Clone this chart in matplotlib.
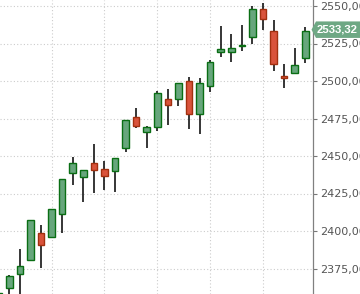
import numpy as np
import matplotlib
matplotlib.use("Agg")
import matplotlib.pyplot as plt
from matplotlib.patches import Polygon
from matplotlib.transforms import blended_transform_factory

# Kerzen-Daten (Index, Open, High, Low, Close)
idx = np.arange(-1, 29)
opens = [2350.0, 2361.8, 2371.1, 2380.7, 2398.7, 2396.2, 2411.1, 2438.5, 2435.8, 2445.1,
         2441.1, 2439.7, 2455.1, 2476.3, 2465.8, 2469.1, 2487.9, 2487.8, 2499.9, 2478.3,
         2497.0, 2519.1, 2519.5, 2523.1, 2529.1, 2547.8, 2533.1, 2503.3, 2505.1, 2515.1]
highs = [2362.0, 2370.7, 2388.0, 2407.5, 2404.0, 2414.5, 2434.5, 2449.1, 2440.5, 2458.0,
         2446.7, 2448.7, 2474.0, 2482.0, 2469.8, 2493.3, 2494.7, 2498.5, 2502.7, 2502.0,
         2514.0, 2536.7, 2531.3, 2537.3, 2550.2, 2552.0, 2540.7, 2511.1, 2521.8, 2535.8]
lows = [2345.0, 2355.0, 2357.0, 2380.0, 2375.5, 2395.5, 2398.9, 2430.9, 2419.5, 2425.1,
        2427.3, 2426.2, 2452.5, 2468.9, 2455.1, 2466.9, 2470.9, 2483.3, 2468.0, 2465.0,
        2492.9, 2516.2, 2512.9, 2520.2, 2524.5, 2534.0, 2506.9, 2495.5, 2504.5, 2512.2]
closes = [2359.0, 2369.7, 2376.5, 2407.1, 2390.9, 2414.4, 2434.5, 2445.1, 2440.5, 2441.0,
          2436.5, 2448.5, 2473.8, 2469.7, 2469.1, 2491.8, 2483.8, 2498.5, 2478.3, 2498.5,
          2512.5, 2521.1, 2521.8, 2524.0, 2547.8, 2541.1, 2511.1, 2502.3, 2510.5, 2533.32]
yticks = [2375, 2400, 2425, 2450, 2475, 2500, 2525, 2550]
week_ticks = [4, 9, 14, 19, 24]
last_price = closes[-1]

o = np.array(opens)
c = np.array(closes)
up = c >= o

fig = plt.figure(figsize=(3.6, 2.94), dpi=100)
ax = fig.add_axes([0, 0, 313 / 360, 1])

grid_col = '#cccccc'
for yt in yticks:
    ax.axhline(yt, color=grid_col, lw=0.8, ls=(0, (1, 2)), zorder=0)
for xt in week_ticks:
    ax.axvline(xt, color=grid_col, lw=0.8, ls=(0, (1, 2)), zorder=0)

# Dochte
ax.vlines(idx, lows, highs, color='black', lw=1.1, zorder=1)

# Kerzenkörper
bottoms = np.minimum(o, c)
heights = np.maximum(np.abs(c - o), 0.6)
ax.bar(idx[up], heights[up], bottom=bottoms[up], width=0.62,
       color='#67a67c', edgecolor='#0a6e14', lw=1.0, zorder=2)
ax.bar(idx[~up], heights[~up], bottom=bottoms[~up], width=0.62,
       color='#d9533b', edgecolor='#a2300f', lw=1.0, zorder=2)

ax.set_xlim(-0.88, 28.73)
ax.set_ylim(2358, 2554)
ax.set_xticks(week_ticks)
ax.set_xticklabels([])
ax.tick_params(axis='x', length=0)

ax.yaxis.tick_right()
ax.set_yticks(yticks)
ax.set_yticklabels([f"{v:.2f}".replace('.', ',') for v in yticks],
                   fontsize=8, color='#555555', family='DejaVu Sans')
ax.tick_params(axis='y', length=3, width=0.8, color='#777777', pad=2.3)

for s in ['left', 'top', 'bottom']:
    ax.spines[s].set_visible(False)
ax.spines['right'].set_color('#808080')
ax.spines['right'].set_linewidth(0.9)

# Label für den letzten Kurs
tr = blended_transform_factory(fig.transFigure, ax.transData)
yc = last_price + 0.9
half = 5.5
poly = Polygon([[311.5 / 360, yc], [316 / 360, yc + half],
                [1.0, yc + half], [1.0, yc - half],
                [316 / 360, yc - half]],
               closed=True, transform=tr, facecolor='#6ea884', edgecolor='none',
               clip_on=False, zorder=5)
ax.add_patch(poly)
ax.text(317 / 360, yc, f"{last_price:.2f}".replace('.', ','), transform=tr,
        ha='left', va='center', fontsize=8.2, color='white', fontweight='bold',
        family='Liberation Sans', clip_on=False, zorder=6)

plt.savefig('out.png', dpi=100)
